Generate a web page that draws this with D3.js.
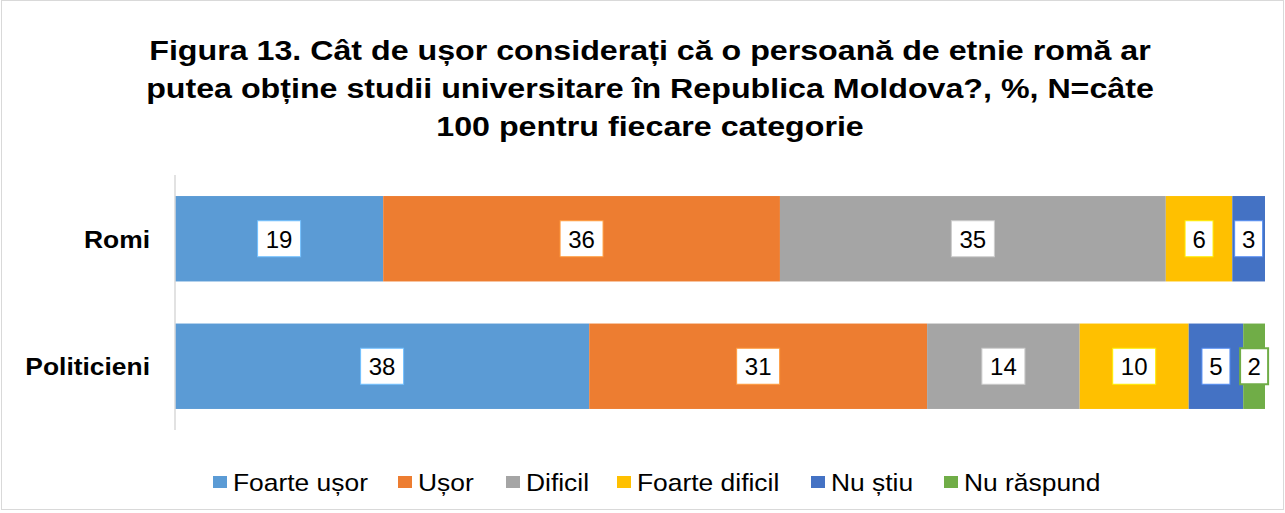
<!DOCTYPE html>
<html>
<head>
<meta charset="utf-8">
<script src="https://cdn.jsdelivr.net/npm/d3@7"></script>
<style>
  body { margin: 0; background: #fff; }
  svg { font-family: "Liberation Sans", Arial, sans-serif; }
</style>
</head>
<body>
<div id="chart"></div>
<script>
var categories = ["Romi", "Politicieni"];
var seriesNames = ["Foarte ușor", "Ușor", "Dificil", "Foarte dificil", "Nu știu", "Nu răspund"];
var colors = ["#5b9bd5", "#ed7d31", "#a5a5a5", "#ffc000", "#4472c4", "#70ad47"];
// values per series, in category order (Romi, Politicieni)
var foarteUsor = [19.1, 38];
var usor = [36.4, 31];
var dificil = [35.4, 14];
var foarteDificil = [6.1, 10];
var nuStiu = [3.0, 5];
var nuRaspund = [0, 2];
var titleLines = [
    "Figura 13. Cât de ușor considerați că o persoană de etnie romă ar",
    "putea obține studii universitare în Republica Moldova?, %, N=câte",
    "100 pentru fiecare categorie"
];

var series = [foarteUsor, usor, dificil, foarteDificil, nuStiu, nuRaspund];

var width = 1285;
var height = 513;
var stretch = 1.1; // the reference text is slightly wider than normal

var svg = d3.select('#chart')
    .append('svg')
    .attr('width', width)
    .attr('height', height);

// outer frame
svg.append('rect')
    .attr('x', 1.5).attr('y', 0.5)
    .attr('width', width - 3).attr('height', height - 4)
    .attr('fill', 'none')
    .attr('stroke', '#d9d9d9');

svg.selectAll('.title')
    .data(titleLines)
    .enter()
    .append('text')
    .attr('class', 'title')
    .attr('transform', function (d, i) {
        return 'translate(650,' + (60 + i * 38) + ') scale(1.15,1)';
    })
    .attr('text-anchor', 'middle')
    .style('font-size', '28px')
    .style('font-weight', 'bold')
    .text(function (d) { return d; });

var x = d3.scaleLinear().domain([0, 100]).range([175, 1265]);
var y = d3.scaleBand().domain(categories).range([175, 430]).paddingInner(0.33).paddingOuter(0.165);

// build stacked rows
var rows = categories.map(function (c, ci) {
    var row = { category: c };
    seriesNames.forEach(function (s, si) { row[s] = series[si][ci]; });
    return row;
});
var stack = d3.stack().keys(seriesNames)(rows);

var layers = svg.selectAll('.layer')
    .data(stack)
    .enter()
    .append('g')
    .attr('class', 'layer');

layers.selectAll('rect')
    .data(function (d, i) { return d.map(function (p) { return { p: p, i: i }; }); })
    .enter()
    .filter(function (d) { return d.p[1] - d.p[0] > 0; })
    .append('rect')
    .attr('x', function (d) { return x(d.p[0]); })
    .attr('y', function (d) { return y(d.p.data.category); })
    .attr('width', function (d) { return x(d.p[1]) - x(d.p[0]); })
    .attr('height', y.bandwidth())
    .attr('fill', function (d) { return colors[d.i]; });

// axis line
svg.append('line')
    .attr('x1', 175).attr('x2', 175)
    .attr('y1', 175).attr('y2', 430)
    .attr('stroke', '#d9d9d9')
    .attr('stroke-width', 1.5);

// value labels
layers.selectAll('.lbl')
    .data(function (d, i) { return d.map(function (p) { return { p: p, i: i }; }); })
    .enter()
    .filter(function (d) { return d.p[1] - d.p[0] > 0; })
    .append('g')
    .attr('class', 'lbl')
    .each(function (d) {
        var g = d3.select(this);
        var txt = String(Math.round(d.p[1] - d.p[0]));
        var cx = (x(d.p[0]) + x(d.p[1])) / 2;
        var cy = y(d.p.data.category) + y.bandwidth() / 2;
        var w = txt.length * 15 + 13;
        var last = d.i === seriesNames.length - 1;
        g.append('rect')
            .attr('x', cx - w / 2)
            .attr('y', cy - 18)
            .attr('width', w)
            .attr('height', 36)
            .attr('fill', '#fff')
            .attr('stroke', last ? colors[d.i] : d3.color(colors[d.i]).brighter(0.6))
            .attr('stroke-width', last ? 2 : 1);
        g.append('text')
            .attr('x', cx)
            .attr('y', cy + 9)
            .attr('text-anchor', 'middle')
            .style('font-size', '24px')
            .attr('fill', '#000')
            .text(txt);
    });

// category labels
svg.selectAll('.cat')
    .data(categories)
    .enter()
    .append('text')
    .attr('class', 'cat')
    .attr('transform', function (d) {
        return 'translate(150,' + (y(d) + y.bandwidth() / 2 + 9) + ') scale(' + stretch + ',1)';
    })
    .attr('text-anchor', 'end')
    .style('font-size', '24px')
    .style('font-weight', 'bold')
    .text(function (d) { return d; });

// legend
var legendX = [213, 398, 506, 617, 811, 944];
var legend = svg.selectAll('.legend')
    .data(seriesNames)
    .enter()
    .append('g')
    .attr('class', 'legend')
    .attr('transform', function (d, i) { return 'translate(' + legendX[i] + ',476)'; });

legend.append('rect')
    .attr('x', 0).attr('y', 0)
    .attr('width', 14).attr('height', 12)
    .attr('fill', function (d, i) { return colors[i]; });

legend.append('text')
    .attr('transform', 'translate(20,15) scale(' + stretch + ',1)')
    .style('font-size', '24px')
    .text(function (d) { return d; });
</script>
</body>
</html>
